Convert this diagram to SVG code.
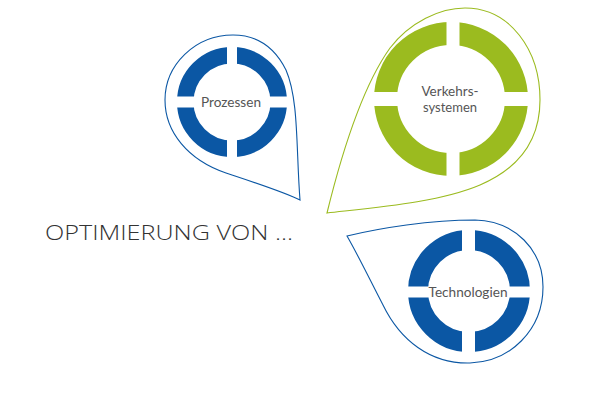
<svg xmlns="http://www.w3.org/2000/svg" width="596" height="400" viewBox="0 0 596 400">
<style>
.drop{fill:none;stroke-width:1.1}
.blue{stroke:#0b57a4}
.green{stroke:#9bbb1f}
.gap{fill:#fff}
.lbl{font-family:Lato,"Open Sans","Liberation Sans",sans-serif;font-size:13px;fill:#555;text-anchor:middle}
.title{font-family:"Open Sans","Liberation Sans",sans-serif;font-weight:300;font-size:21px;fill:#333}
</style>
<rect width="596" height="400" fill="#fff"/>
<g id="title"><text class="title" x="45" y="239.5" textLength="248" lengthAdjust="spacingAndGlyphs">OPTIMIERUNG VON ...</text></g>
<g id="prozessen">
<path class="drop blue" d="M300,200 C296,150 299,100 286,70 C274,46 256,35 233,35 C195,35 165,65 165,100 C165,132 188,160 226,173 C256,183 284,192 300,200 Z"/>
<circle cx="232" cy="102" r="46.75" fill="none" stroke="#0b57a4" stroke-width="16.5"/>
<rect class="gap" x="227" y="44" width="10" height="116"/>
<rect class="gap" x="174" y="96.5" width="116" height="11"/>
<text class="lbl" x="231" y="106.5" textLength="60" lengthAdjust="spacingAndGlyphs">Prozessen</text>
</g>
<g id="verkehrssystemen">
<path class="drop green" d="M327,213 C340,160 360,90 390,48 C410,22 440,8 465,8 C510,8 540,50 540,100 C540,145 515,170 480,185 C440,202 380,207 327,213 Z"/>
<circle cx="451" cy="99" r="65.5" fill="none" stroke="#9bbb1f" stroke-width="23"/>
<rect class="gap" x="446.5" y="20" width="13" height="158"/>
<rect class="gap" x="372" y="92" width="158" height="14"/>
<text class="lbl" x="450" y="96" textLength="57" lengthAdjust="spacingAndGlyphs">Verkehrs-</text>
<text class="lbl" x="450" y="111.5">systemen</text>
</g>
<g id="technologien">
<path class="drop blue" d="M347,236 C380,228 430,220 475,220 C515,221 543,250 543,287 C543,330 510,362 470,363 C430,364 400,340 383,305 C370,280 358,255 347,236 Z"/>
<circle cx="469" cy="291" r="51" fill="none" stroke="#0b57a4" stroke-width="20"/>
<rect class="gap" x="462" y="228" width="13" height="126"/>
<rect class="gap" x="406" y="286.5" width="126" height="11"/>
<text class="lbl" x="468" y="296.5" textLength="79" lengthAdjust="spacingAndGlyphs">Technologien</text>
</g>
</svg>
